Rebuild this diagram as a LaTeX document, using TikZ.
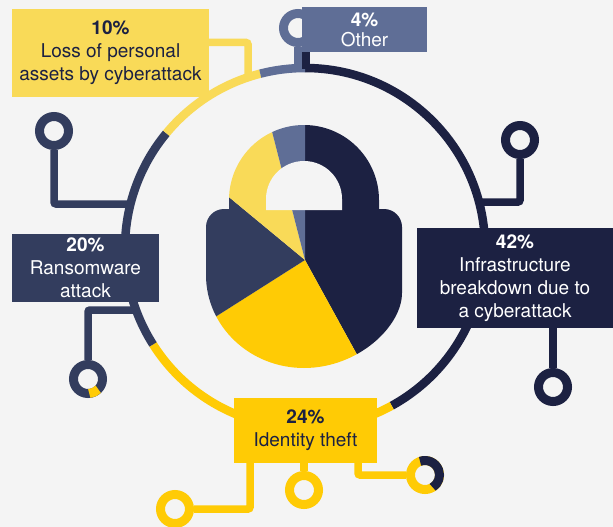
\documentclass[tikz,border=0pt]{standalone}
\usepackage{fontspec}
\setmainfont{TeX Gyre Heros}
\definecolor{bgc}{HTML}{F4F4F4}
\definecolor{navy}{HTML}{1C2142}
\definecolor{slate}{HTML}{333D5E}
\definecolor{lav}{HTML}{5F6E96}
\definecolor{ylight}{HTML}{F9DA58}
\definecolor{ydeep}{HTML}{FFCB05}
\begin{document}
\begin{tikzpicture}[x=1pt, y=-1pt,
  box/.style={inner sep=0pt, align=center, font=\fontsize{19}{23}\selectfont},
  term/.style={circle, draw=#1, line width=9pt, fill=bgc, minimum size=29pt, inner sep=0pt},
  wire/.style={line width=7.5pt, rounded corners=2pt},
  ring/.style={line width=8.5pt}]
\useasboundingbox (0,0) rectangle (613,527);
\fill[bgc] (0,0) rectangle (613,527);
\coordinate (O_ring) at (305,248);
\draw[ring, navy] (O_ring) ++(-90:180) arc[start angle=-90, end angle=61.2, radius=180];
\draw[ring, ydeep] (O_ring) ++(61.2:180) arc[start angle=61.2, end angle=147.6, radius=180];
\draw[ring, slate] (O_ring) ++(147.6:180) arc[start angle=147.6, end angle=219.6, radius=180];
\draw[ring, ylight] (O_ring) ++(219.6:180) arc[start angle=219.6, end angle=255.6, radius=180];
\draw[ring, lav] (O_ring) ++(255.6:180) arc[start angle=255.6, end angle=270, radius=180];
\coordinate (O_pie) at (305,260);
\begin{scope}
\clip (229,212) -- (229,200) arc[start angle=180, end angle=360, radius=75] -- (379,212) -- cycle
  (206,275) [rounded corners=18pt] -- (206,209) -- (402,209) -- (402,275) [sharp corners] arc[start angle=0, end angle=180, x radius=98, y radius=93] -- cycle;
\fill[navy] (O_pie) -- ++(-90:170) arc[start angle=-90, end angle=61.2, radius=170] -- cycle;
\fill[ydeep] (O_pie) -- ++(61.2:170) arc[start angle=61.2, end angle=147.6, radius=170] -- cycle;
\fill[slate] (O_pie) -- ++(147.6:170) arc[start angle=147.6, end angle=219.6, radius=170] -- cycle;
\fill[ylight] (O_pie) -- ++(219.6:170) arc[start angle=219.6, end angle=255.6, radius=170] -- cycle;
\fill[lav] (O_pie) -- ++(255.6:170) arc[start angle=255.6, end angle=270, radius=170] -- cycle;
\end{scope}
\fill[bgc] (266,210) -- (266,199) arc[start angle=180, end angle=360, radius=38] -- (342,210) -- cycle;
\node[term=lav] (T_1_0) at (298,28) {};
\node[term=slate] (T_2_0) at (54,131) {};
\node[term=slate] (T_2_1) at (88,379) {};
\node[term=navy] (T_3_0) at (520,140) {};
\node[term=navy] (T_3_1) at (553,387) {};
\node[term=ydeep] (T_4_0) at (175,509) {};
\node[term=ydeep] (T_4_1) at (304,490) {};
\node[term=ydeep] (T_4_2) at (425,475) {};
\draw[ydeep, line width=9pt] (T_2_1.center) ++(45:14.5) arc[start angle=45, end angle=85, radius=14.5];
\draw[navy, line width=9pt] (T_4_2.center) ++(-110:14.5) arc[start angle=-110, end angle=58, radius=14.5];
\node[box, fill=ylight, text=navy, minimum width=197pt, minimum height=88pt] (B_0) at (110.5,53) {\textbf{10\%}\\Loss of personal\\assets by cyberattack};
\node[box, fill=lav, text=white, minimum width=125pt, minimum height=45pt, font=\fontsize{19}{20}\selectfont] (B_1) at (364.5,29.5) {\textbf{4\%}\\Other};
\node[box, fill=slate, text=white, minimum width=147pt, minimum height=68pt] (B_2) at (85.5,268) {\textbf{20\%}\\Ransomware\\attack};
\node[box, fill=navy, text=white, minimum width=196pt, minimum height=100pt] (B_3) at (515,278) {\textbf{42\%}\\Infrastructure\\breakdown due to\\a cyberattack};
\node[box, fill=ydeep, text=navy, minimum width=143pt, minimum height=65pt] (B_4) at (305.5,430.5) {\textbf{24\%}\\Identity theft};
\coordinate (R_0) at (248,78);
\draw[wire, ylight] ([yshift=10.5pt]B_0.east) -| (R_0);
\coordinate (R_1_0) at (298,69);
\draw[wire, lav] (T_1_0) -- (R_1_0);
\coordinate (R_1_1) at (306,69);
\draw[wire, navy] (B_1.south -| R_1_1) -- (R_1_1);
\coordinate (R_2_0) at (131,204);
\draw[wire, slate] (T_2_0) |- (R_2_0);
\coordinate (R_2_1) at (136,310);
\draw[wire, slate] (T_2_1) |- (R_2_1);
\coordinate (R_3_0) at (479,202);
\draw[wire, navy] (T_3_0) |- (R_3_0);
\draw[wire, navy] (T_3_1) -- (T_3_1 |- B_3.south);
\draw[wire, ydeep] ([xshift=-55.5pt]B_4.south) |- (T_4_0);
\draw[wire, ydeep] (T_4_1) -- (T_4_1 |- B_4.south);
\draw[wire, ydeep] ([xshift=52.5pt]B_4.south) |- (T_4_2);
\end{tikzpicture}
\end{document}
